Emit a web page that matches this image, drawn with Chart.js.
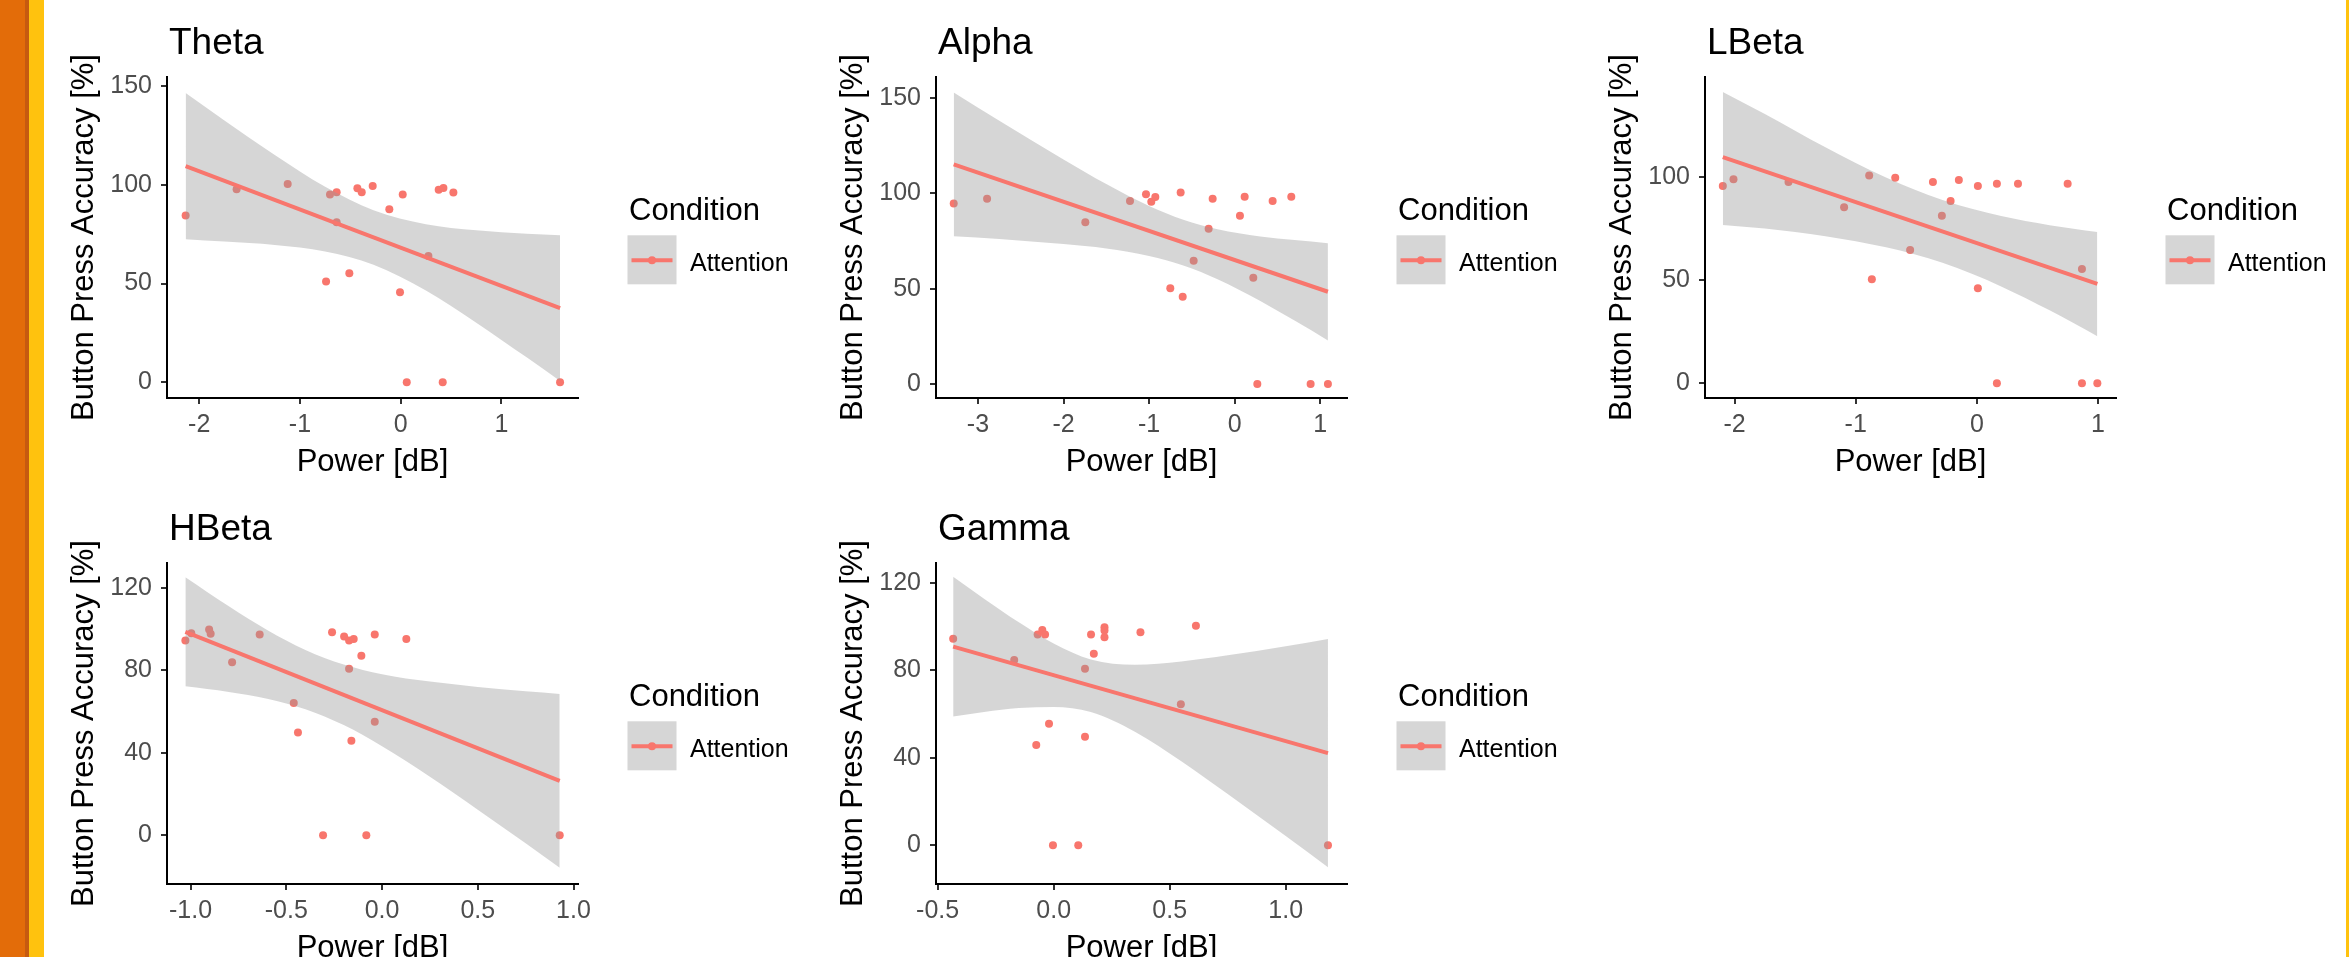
<!DOCTYPE html>
<html>
<head>
<meta charset="utf-8">
<script src="https://cdn.jsdelivr.net/npm/chart.js@4.4.1/dist/chart.umd.min.js"></script>
<style>
html,body{margin:0;padding:0;background:#fff;}
body{width:2349px;height:957px;overflow:hidden;position:relative;}
.strip{position:absolute;top:0;height:957px;}
canvas{position:absolute;}
</style>
</head>
<body>
<div class="strip" style="left:0;width:25px;background:#E36C09"></div>
<div class="strip" style="left:25px;width:4px;background:#C65A10"></div>
<div class="strip" style="left:29px;width:15px;background:#FFC20E"></div>
<div class="strip" style="left:2346px;width:3px;background:#FFC20E"></div>
<canvas id="theta"></canvas>
<canvas id="alpha"></canvas>
<canvas id="lbeta"></canvas>
<canvas id="hbeta"></canvas>
<canvas id="gamma"></canvas>
<script>
// ---------------- DATA ----------------
const thetaPower    = [-2.135, -1.629, -1.122, -0.702, -0.636, -0.636, -0.430, -0.387, -0.278, -0.113, 0.020, 0.377, 0.424, 0.523, 0.275, -0.741, -0.510, -0.007, 0.060, 0.417, 1.582];
const thetaAccuracy = [84.5, 97.8, 100.5, 95.1, 96.3, 81.1, 98.3, 96.3, 99.5, 87.7, 95.1, 97.5, 98.5, 96.1, 64.0, 51.0, 55.2, 45.6, 0, 0, 0];
const thetaFitPower = [-2.135, 1.582];
const thetaFitAccuracy = [109.5, 37.5];
const thetaBandPower = [-2.135, -1.75, -1.25, -0.75, -0.27, 0.25, 0.75, 1.25, 1.582];
const thetaBandUpper = [146.6, 132.7, 115.2, 99.1, 87.2, 80.1, 77.0, 75.2, 74.5];
const thetaBandLower = [72.5, 71.3, 69.6, 66.3, 59.6, 46.5, 30.2, 12.6, 0.6];
const thetaXTicks = [-2, -1, 0, 1];
const thetaXTickLabels = ['-2', '-1', '0', '1'];
const thetaYTicks = [0, 50, 100, 150];

const alphaPower    = [-3.283, -2.893, -1.745, -1.223, -1.036, -0.974, -0.927, -0.631, -0.257, 0.117, 0.444, 0.662, 0.062, -0.304, -0.479, 0.218, -0.752, -0.607, 0.265, 0.888, 1.090];
const alphaAccuracy = [94.7, 97.2, 84.8, 96.0, 99.5, 95.6, 98.1, 100.5, 97.2, 98.2, 96.0, 98.2, 88.3, 81.5, 64.7, 55.8, 50.2, 45.8, 0, 0, 0];
const alphaFitPower = [-3.283, 1.090];
const alphaFitAccuracy = [115.2, 48.4];
const alphaBandPower = [-3.283, -2.75, -2.0, -1.5, -1.0, -0.6, -0.2, 0.3, 0.7, 1.090];
const alphaBandUpper = [152.9, 138.1, 117.8, 104.9, 93.4, 86.2, 81.2, 77.4, 75.5, 73.9];
const alphaBandLower = [77.5, 76.1, 73.4, 71.1, 67.2, 62.2, 55.0, 43.6, 33.3, 22.9];
const alphaXTicks = [-3, -2, -1, 0, 1];
const alphaXTickLabels = ['-3', '-2', '-1', '0', '1'];
const alphaYTicks = [0, 50, 100, 150];

const lbetaPower    = [-2.097, -2.009, -1.555, -1.096, -0.889, -0.674, -0.363, -0.149, 0.008, 0.165, 0.339, 0.749, -0.217, -0.289, -0.551, -0.867, 0.008, 0.867, 0.165, 0.867, 0.994];
const lbetaAccuracy = [95.5, 98.7, 97.4, 85.2, 100.5, 99.5, 97.4, 98.4, 95.5, 96.5, 96.5, 96.5, 88.2, 81.1, 64.5, 50.3, 46.0, 55.3, 0, 0, 0];
const lbetaFitPower = [-2.097, 0.994];
const lbetaFitAccuracy = [109.4, 48.1];
const lbetaBandPower = [-2.097, -1.75, -1.25, -0.75, -0.284, 0.2, 0.6, 0.994];
const lbetaBandUpper = [141.0, 130.3, 114.2, 99.6, 88.7, 80.9, 76.5, 73.2];
const lbetaBandLower = [76.6, 74.9, 71.2, 65.8, 58.3, 46.9, 35.3, 22.8];
const lbetaXTicks = [-2, -1, 0, 1];
const lbetaXTickLabels = ['-2', '-1', '0', '1'];
const lbetaYTicks = [0, 50, 100];

const hbetaPower    = [-1.027, -0.996, -0.903, -0.895, -0.639, -0.783, -0.461, -0.439, -0.261, -0.198, -0.172, -0.148, -0.038, -0.108, -0.172, -0.160, -0.038, 0.127, -0.308, -0.082, 0.928];
const hbetaAccuracy = [94.5, 98.1, 99.9, 97.8, 97.5, 84.0, 64.2, 49.9, 98.6, 96.5, 94.5, 95.3, 97.5, 87.1, 80.9, 45.9, 55.1, 95.3, 0, 0, 0];
const hbetaFitPower = [-1.027, 0.928];
const hbetaFitAccuracy = [98.8, 26.4];
const hbetaBandPower = [-1.027, -0.8, -0.6, -0.4, -0.2, 0.0, 0.25, 0.5, 0.75, 0.928];
const hbetaBandUpper = [125.3, 111.2, 99.7, 90.0, 82.9, 78.2, 74.6, 72.0, 69.9, 68.6];
const hbetaBandLower = [72.3, 69.6, 66.3, 61.2, 53.5, 43.2, 28.4, 12.4, -3.9, -15.8];
const hbetaXTicks = [-1.0, -0.5, 0.0, 0.5, 1.0];
const hbetaXTickLabels = ['-1.0', '-0.5', '0.0', '0.5', '1.0'];
const hbetaYTicks = [0, 40, 80, 120];

const gammaPower    = [-0.433, -0.170, -0.069, -0.049, -0.037, 0.161, 0.219, 0.219, 0.219, 0.374, 0.613, 0.173, 0.135, 0.548, -0.020, -0.075, 0.135, -0.003, 0.106, 1.182];
const gammaAccuracy = [94.4, 84.7, 96.3, 98.4, 96.3, 96.3, 99.6, 98.2, 95.1, 97.4, 100.3, 87.5, 80.7, 64.4, 55.5, 45.8, 49.6, 0, 0, 0];
const gammaFitPower = [-0.433, 1.182];
const gammaFitAccuracy = [90.8, 42.1];
const gammaBandPower = [-0.433, -0.3, -0.15, 0.0, 0.16, 0.35, 0.55, 0.75, 1.0, 1.182];
const gammaBandUpper = [122.7, 112.7, 101.9, 92.2, 84.9, 82.5, 84.0, 86.8, 91.0, 94.3];
const gammaBandLower = [58.9, 60.9, 62.7, 63.2, 60.9, 51.9, 38.4, 23.4, 4.2, -10.1];
const gammaXTicks = [-0.5, 0.0, 0.5, 1.0];
const gammaXTickLabels = ['-0.5', '0.0', '0.5', '1.0'];
const gammaYTicks = [0, 40, 80, 120];

const panelTitles = ['Theta', 'Alpha', 'LBeta', 'HBeta', 'Gamma'];
const legendTitle = 'Condition';
const conditionName = 'Attention';
const xAxisTitle = 'Power [dB]';
const yAxisTitle = 'Button Press Accuracy [%]';

// ---------------- STYLE / LAYOUT ----------------
const FONT = '"Liberation Sans", Arial, Helvetica, sans-serif';
const RED = '#F8766D';
const BAND = 'rgba(153,153,153,0.4)';
const YW = 101, PW = 411, PH = 321, PADT = 60, XH = 83, PADR = 230;

const decorPlugin = {
  id: 'decor',
  afterDraw(chart, args, opts) {
    const ctx = chart.ctx, a = chart.chartArea;
    ctx.save();
    ctx.fillStyle = '#000';
    ctx.textAlign = 'left';
    ctx.textBaseline = 'alphabetic';
    ctx.font = '37px ' + FONT;
    ctx.fillText(opts.title, a.left + 2, a.top - 23.5);
    // legend
    ctx.font = '31px ' + FONT;
    ctx.fillText(legendTitle, a.right + 51, a.top + 143.3);
    const bx = a.right + 49.5, by = a.top + 158.3;
    ctx.fillStyle = BAND;
    ctx.fillRect(bx, by, 49, 49);
    ctx.strokeStyle = RED;
    ctx.lineWidth = 4;
    ctx.beginPath();
    ctx.moveTo(bx + 4, by + 25);
    ctx.lineTo(bx + 45, by + 25);
    ctx.stroke();
    ctx.fillStyle = RED;
    ctx.beginPath();
    ctx.arc(bx + 24.5, by + 25, 4, 0, Math.PI * 2);
    ctx.fill();
    ctx.fillStyle = '#000';
    ctx.font = '25px ' + FONT;
    ctx.textBaseline = 'middle';
    ctx.fillText(conditionName, a.right + 112, a.top + 187.3);
    ctx.restore();
  }
};

function pts(xs, ys) { return xs.map((x, i) => ({ x: x, y: ys[i] })); }

function makePanel(id, pos, d) {
  const cv = document.getElementById(id);
  const W = YW + PW + PADR, H = PADT + PH + XH;
  cv.width = W; cv.height = H;
  cv.style.width = W + 'px'; cv.style.height = H + 'px';
  cv.style.left = pos.left + 'px'; cv.style.top = pos.top + 'px';
  new Chart(cv, {
    type: 'scatter',
    data: {
      datasets: [
        { type: 'line', data: pts(d.fitX, d.fitY), showLine: true, borderColor: RED, borderWidth: 4,
          pointRadius: 0, fill: false, order: 0 },
        { type: 'line', data: pts(d.bandX, d.upper), showLine: true, borderColor: 'rgba(0,0,0,0)', borderWidth: 0,
          pointRadius: 0, fill: '+1', backgroundColor: BAND, cubicInterpolationMode: 'monotone', order: 1 },
        { type: 'line', data: pts(d.bandX, d.lower), showLine: true, borderColor: 'rgba(0,0,0,0)', borderWidth: 0,
          pointRadius: 0, fill: false, cubicInterpolationMode: 'monotone', order: 2 },
        { type: 'scatter', data: pts(d.x, d.y), showLine: false, pointRadius: 4, pointBorderWidth: 0,
          backgroundColor: RED, pointBackgroundColor: RED, borderWidth: 0, order: 3 }
      ]
    },
    options: {
      responsive: false, animation: false, devicePixelRatio: 1,
      events: [],
      layout: { padding: { top: PADT, right: PADR, left: 0, bottom: 0 } },
      plugins: { legend: { display: false }, tooltip: { enabled: false }, title: { display: false },
                 decor: { title: d.title } },
      scales: {
        x: {
          type: 'linear', min: d.xMin, max: d.xMax,
          afterBuildTicks: s => { s.ticks = d.xTicks.map(v => ({ value: v })); },
          afterFit: s => { s.height = XH; },
          ticks: { autoSkip: false, maxRotation: 0, minRotation: 0, padding: 6, color: '#4D4D4D',
                   font: { size: 25, family: FONT }, callback: (v, i) => d.xLabels[i] },
          grid: { display: true, drawOnChartArea: false, drawTicks: true, tickLength: 6, color: '#333333', lineWidth: 2 },
          border: { display: true, color: '#000000', width: 2 },
          title: { display: true, text: xAxisTitle, color: '#000', padding: 0, font: { size: 31, family: FONT } }
        },
        y: {
          type: 'linear', min: d.yMin, max: d.yMax,
          afterBuildTicks: s => { s.ticks = d.yTicks.map(v => ({ value: v })); },
          afterFit: s => { s.width = YW; },
          ticks: { autoSkip: false, padding: 9, color: '#4D4D4D', font: { size: 25, family: FONT },
                   callback: v => String(v) },
          grid: { display: true, drawOnChartArea: false, drawTicks: true, tickLength: 6, color: '#333333', lineWidth: 2 },
          border: { display: true, color: '#000000', width: 2 },
          title: { display: true, text: yAxisTitle, color: '#000', padding: 0, font: { size: 31, family: FONT } }
        }
      }
    },
    plugins: [decorPlugin]
  });
}

makePanel('theta', { left: 66, top: 17 }, {
  title: panelTitles[0], x: thetaPower, y: thetaAccuracy, fitX: thetaFitPower, fitY: thetaFitAccuracy,
  bandX: thetaBandPower, upper: thetaBandUpper, lower: thetaBandLower,
  xTicks: thetaXTicks, xLabels: thetaXTickLabels, yTicks: thetaYTicks,
  xMin: -2.32, xMax: 1.76, yMin: -8.0, yMax: 154.7 });

makePanel('alpha', { left: 835, top: 17 }, {
  title: panelTitles[1], x: alphaPower, y: alphaAccuracy, fitX: alphaFitPower, fitY: alphaFitAccuracy,
  bandX: alphaBandPower, upper: alphaBandUpper, lower: alphaBandLower,
  xTicks: alphaXTicks, xLabels: alphaXTickLabels, yTicks: alphaYTicks,
  xMin: -3.49, xMax: 1.313, yMin: -7.3, yMax: 161.0 });

makePanel('lbeta', { left: 1604, top: 17 }, {
  title: panelTitles[2], x: lbetaPower, y: lbetaAccuracy, fitX: lbetaFitPower, fitY: lbetaFitAccuracy,
  bandX: lbetaBandPower, upper: lbetaBandUpper, lower: lbetaBandLower,
  xTicks: lbetaXTicks, xLabels: lbetaXTickLabels, yTicks: lbetaYTicks,
  xMin: -2.244, xMax: 1.148, yMin: -7.1, yMax: 148.2 });

makePanel('hbeta', { left: 66, top: 503 }, {
  title: panelTitles[3], x: hbetaPower, y: hbetaAccuracy, fitX: hbetaFitPower, fitY: hbetaFitAccuracy,
  bandX: hbetaBandPower, upper: hbetaBandUpper, lower: hbetaBandLower,
  xTicks: hbetaXTicks, xLabels: hbetaXTickLabels, yTicks: hbetaYTicks,
  xMin: -1.123, xMax: 1.0235, yMin: -23.7, yMax: 132.2 });

makePanel('gamma', { left: 835, top: 503 }, {
  title: panelTitles[4], x: gammaPower, y: gammaAccuracy, fitX: gammaFitPower, fitY: gammaFitAccuracy,
  bandX: gammaBandPower, upper: gammaBandUpper, lower: gammaBandLower,
  xTicks: gammaXTicks, xLabels: gammaXTickLabels, yTicks: gammaYTicks,
  xMin: -0.507, xMax: 1.264, yMin: -17.7, yMax: 129.0 });
</script>
</body>
</html>
